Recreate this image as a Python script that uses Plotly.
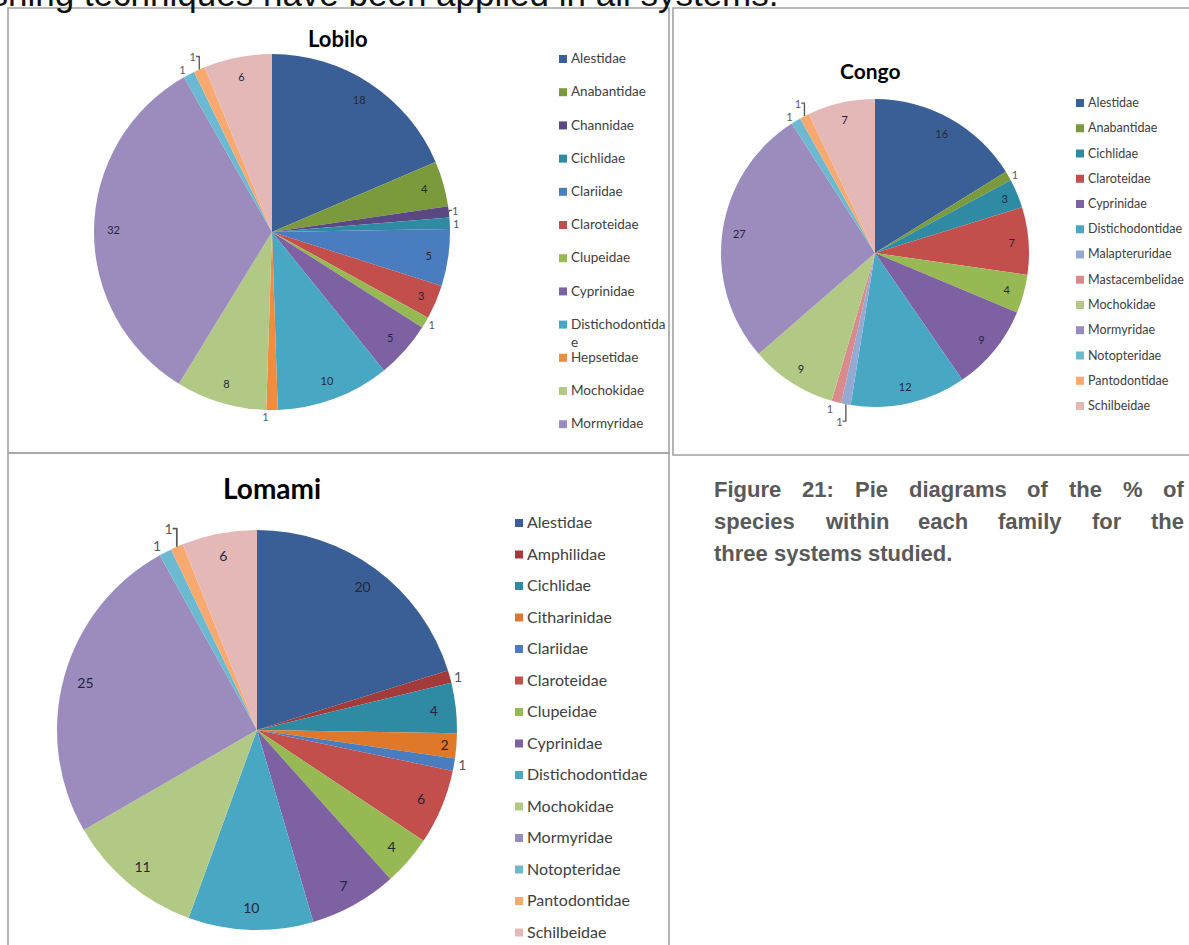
import plotly.graph_objects as go

W, H = 1189, 945

# ---- species counts per family, in slice order (clockwise from 12 o'clock) ----
lobilo_families = ["Alestidae", "Anabantidae", "Channidae", "Cichlidae", "Clariidae",
                   "Claroteidae", "Clupeidae", "Cyprinidae", "Distichodontidae",
                   "Hepsetidae", "Mochokidae", "Mormyridae", "Notopteridae",
                   "Pantodontidae", "Schilbeidae"]
lobilo_counts = [18, 4, 1, 1, 5, 3, 1, 5, 10, 1, 8, 32, 1, 1, 6]
lobilo_legend = ["Alestidae", "Anabantidae", "Channidae", "Cichlidae", "Clariidae",
                 "Claroteidae", "Clupeidae", "Cyprinidae", "Distichodontidae",
                 "Hepsetidae", "Mochokidae", "Mormyridae"]

congo_families = ["Alestidae", "Anabantidae", "Cichlidae", "Claroteidae", "Clupeidae",
                  "Cyprinidae", "Distichodontidae", "Malapteruridae", "Mastacembelidae",
                  "Mochokidae", "Mormyridae", "Notopteridae", "Pantodontidae",
                  "Schilbeidae"]
congo_counts = [16, 1, 3, 7, 4, 9, 12, 1, 1, 9, 27, 1, 1, 7]
congo_legend = ["Alestidae", "Anabantidae", "Cichlidae", "Claroteidae", "Cyprinidae",
                "Distichodontidae", "Malapteruridae", "Mastacembelidae", "Mochokidae",
                "Mormyridae", "Notopteridae", "Pantodontidae", "Schilbeidae"]

lomami_families = ["Alestidae", "Amphilidae", "Cichlidae", "Citharinidae", "Clariidae",
                   "Claroteidae", "Clupeidae", "Cyprinidae", "Distichodontidae",
                   "Mochokidae", "Mormyridae", "Notopteridae", "Pantodontidae",
                   "Schilbeidae"]
lomami_counts = [20, 1, 4, 2, 1, 6, 4, 7, 10, 11, 25, 1, 1, 6]
lomami_legend = lomami_families

header_text = "fishing techniques have been applied in all systems."
caption_lines = ["Figure 21: Pie diagrams of the % of",
                 "species within each family for the",
                 "three systems studied."]

# one colour per family, shared by all three charts
family_colors = {
    "Alestidae": "#3A5F96",
    "Amphilidae": "#A23B3A",
    "Anabantidae": "#7A9A3C",
    "Channidae": "#5B4784",
    "Cichlidae": "#2F8BA3",
    "Citharinidae": "#E0782A",
    "Clariidae": "#4A7DC0",
    "Claroteidae": "#C24F4C",
    "Clupeidae": "#97B954",
    "Cyprinidae": "#7E61A3",
    "Distichodontidae": "#48A7C2",
    "Hepsetidae": "#F08C3C",
    "Malapteruridae": "#93AAD3",
    "Mastacembelidae": "#D98A8C",
    "Mochokidae": "#B2C986",
    "Mormyridae": "#9C8CBE",
    "Notopteridae": "#6BBAD2",
    "Pantodontidae": "#F7A96F",
    "Schilbeidae": "#E4B8B7",
}


def X(px):
    return px / W


def Y(py):
    return 1 - py / H


fig = go.Figure()


def add_pie(families, counts, cx, cy, r, label_size):
    domain = dict(x=[X(cx - r), X(cx + r)], y=[Y(cy + r), Y(cy - r)])
    fig.add_trace(go.Pie(
        labels=families, values=counts, sort=False, direction="clockwise",
        rotation=0, domain=domain, showlegend=False, textinfo="none",
        marker=dict(colors=[family_colors[f] for f in families],
                    line=dict(width=0)),
        hoverinfo="label+value",
    ))
    # value labels sit in an outer ring, near the rim of each slice
    fig.add_trace(go.Pie(
        labels=families, values=counts, sort=False, direction="clockwise",
        rotation=0, domain=domain, showlegend=False, hole=0.78,
        marker=dict(colors=["rgba(0,0,0,0)"] * len(counts),
                    line=dict(width=0)),
        textinfo="value",
        textposition=["outside" if v == 1 else "inside" for v in counts],
        insidetextorientation="horizontal",
        insidetextfont=dict(family="Lato", size=label_size, color="#26263A"),
        outsidetextfont=dict(family="Lato", size=label_size, color="#595959"),
        hoverinfo="skip",
    ))


def add_legend(entries, x_sq, y_first, dy, font_size, wrap=None):
    sq = 8
    for i, name in enumerate(entries):
        yc = y_first + i * dy
        fig.add_shape(type="rect", xref="paper", yref="paper",
                      x0=X(x_sq), x1=X(x_sq + sq), y0=Y(yc + sq / 2), y1=Y(yc - sq / 2),
                      fillcolor=family_colors[name], line=dict(width=0))
        text = name
        if wrap and len(name) > wrap:
            text = name[:wrap] + "<br>" + name[wrap:]
        fig.add_annotation(xref="paper", yref="paper", x=X(x_sq + sq + 2),
                           y=Y(yc - 0.72 * font_size - 1), xanchor="left", yanchor="top",
                           text=text, showarrow=False, align="left",
                           font=dict(family="Lato", size=font_size, color="#404040"))


def add_title(text, cx, cy, size):
    fig.add_annotation(xref="paper", yref="paper", x=X(cx), y=Y(cy),
                       xanchor="center", yanchor="middle", text="<b>%s</b>" % text,
                       showarrow=False, font=dict(family="Lato", size=size, color="#000000"))


# chart frames
for x0, y0, x1, y1 in [(8, 8, 669, 453), (673, 8, 1195, 455), (8, 453, 669, 960)]:
    fig.add_shape(type="rect", xref="paper", yref="paper",
                  x0=X(x0), x1=X(x1), y0=Y(y1), y1=Y(y0),
                  line=dict(color="#A3A3A3", width=1.6), fillcolor="rgba(0,0,0,0)")

add_pie(lobilo_families, lobilo_counts, 272, 232, 178, 11)
add_pie(congo_families, congo_counts, 875, 253, 154, 11)
add_pie(lomami_families, lomami_counts, 257, 730, 200, 14)

add_title("Lobilo", 338, 38, 22)
add_title("Congo", 870, 70, 21)
add_title("Lomami", 272, 488, 28)

add_legend(lobilo_legend, 559, 59, 33.2, 13.5, wrap=15)
add_legend(congo_legend, 1076, 103, 25.25, 12.5)
add_legend(lomami_legend, 515, 523, 31.5, 16)

# running text line of the page, cut at the top edge
fig.add_annotation(xref="paper", yref="paper", x=X(-29), y=Y(15.4),
                   xanchor="left", yanchor="bottom", text=header_text, showarrow=False,
                   font=dict(family="Liberation Sans", size=35, color="#111111"))

# justified caption, word by word (Arial Bold advance widths, per 1000 em)
bold_widths = {"F": 611, "i": 278, "g": 611, "u": 611, "r": 389, "e": 556, "2": 556,
               "1": 556, ":": 333, "P": 667, "d": 611, "a": 556, "m": 889, "s": 556,
               "o": 611, "f": 333, "t": 333, "h": 611, "%": 889, "p": 611, "c": 556,
               "w": 778, "n": 611, "l": 278, "y": 556, ".": 278}
cap_size = 22
cap_left, cap_right = 713, 1183
cap_baselines = [498, 530, 562]
for k, line in enumerate(caption_lines):
    words = line.split(" ")
    widths = [sum(bold_widths.get(ch, 556) for ch in w) * cap_size / 1000 for w in words]
    justify = k < len(caption_lines) - 1
    if justify:
        gap = (cap_right - cap_left - sum(widths)) / (len(words) - 1)
    else:
        gap = 0.278 * cap_size
    x = cap_left
    for w, wd in zip(words, widths):
        fig.add_annotation(xref="paper", yref="paper", x=X(x - 1),
                           y=Y(cap_baselines[k] + 0.212 * cap_size + 1),
                           xanchor="left", yanchor="bottom", text="<b>%s</b>" % w,
                           showarrow=False,
                           font=dict(family="Liberation Sans", size=cap_size, color="#595959"))
        x += wd + gap

fig.update_layout(
    width=W, height=H, margin=dict(l=0, r=0, t=0, b=0),
    paper_bgcolor="white", plot_bgcolor="white", showlegend=False,
)

fig.write_html("out.html")
